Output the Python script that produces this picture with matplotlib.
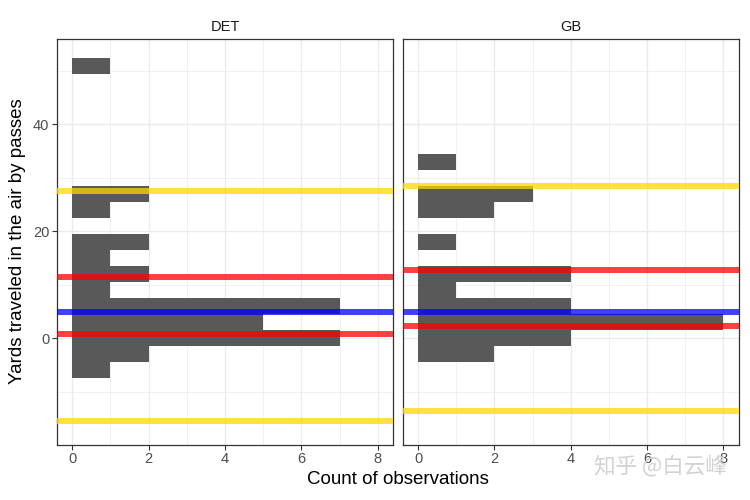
import numpy as np
import matplotlib.pyplot as plt
from matplotlib.ticker import MultipleLocator

plt.rcParams['font.family'] = ['Liberation Sans', 'Noto Sans CJK SC', 'DejaVu Sans']

# histogram bins (binwidth 3, centred on multiples of 3)
det_centers = [-6, -3, 0, 3, 6, 9, 12, 15, 18, 24, 27, 51]
det_counts = [1, 2, 7, 5, 7, 1, 2, 1, 2, 1, 2, 1]
gb_centers = [-3, 0, 3, 6, 9, 12, 18, 24, 27, 33]
gb_counts = [2, 4, 8, 4, 1, 4, 1, 2, 3, 1]

# reference lines per team
det_yellow = [27.5, -15.5]
det_red = [11.45, 0.75]
det_blue = [4.93]
gb_yellow = [28.45, -13.6]
gb_red = [12.7, 2.25]
gb_blue = [4.93]

panels = [
    ("DET", det_centers, det_counts, det_yellow, det_red, det_blue),
    ("GB", gb_centers, gb_counts, gb_yellow, gb_red, gb_blue),
]

fig = plt.figure(figsize=(7.5, 5), dpi=100)
lefts = [0.076, 0.537]
axes = []
for i, (team, cen, cnt, yel, red, blu) in enumerate(panels):
    ax = fig.add_axes([lefts[i], 0.111, 0.448, 0.8103])
    axes.append(ax)
    ax.barh(cen, cnt, height=3, color='#595959', zorder=2)
    for y in yel:
        ax.axhline(y, color='gold', alpha=0.75, lw=4.3, zorder=3)
    for y in red:
        ax.axhline(y, color='red', alpha=0.75, lw=4.3, zorder=3)
    for y in blu:
        ax.axhline(y, color='blue', alpha=0.75, lw=4.3, zorder=3)

    ax.set_xlim(-0.4, 8.4)
    ax.set_ylim(-19.85, 55.9)
    ax.xaxis.set_major_locator(MultipleLocator(2))
    ax.xaxis.set_minor_locator(MultipleLocator(1))
    ax.yaxis.set_major_locator(MultipleLocator(20))
    ax.yaxis.set_minor_locator(MultipleLocator(10))
    ax.grid(which='major', color='#ebebeb', lw=1.0, zorder=0)
    ax.grid(which='minor', color='#ebebeb', lw=0.5, zorder=0)
    ax.set_axisbelow(True)
    ax.tick_params(which='major', length=3.5, width=0.8, color='#333333',
                   labelcolor='#4d4d4d', labelsize=10.5, pad=2)
    ax.tick_params(which='minor', length=0)
    for s in ax.spines.values():
        s.set_color('#333333')
        s.set_linewidth(0.9)
    if i > 0:
        ax.tick_params(axis='y', which='both', left=False, labelleft=False)
    ax.set_title(team, fontsize=10.5, color='#1a1a1a', pad=6)

fig.text(0.531, 0.04, "Count of observations", ha='center', va='center', fontsize=13.5)
fig.text(0.024, 0.518, "Yards traveled in the air by passes", ha='center', va='center',
         rotation=90, fontsize=13.5)

# watermark
fig.text(0.881, 0.066, "知乎 @白云峰", ha='center', va='center', fontsize=15.5,
         color='#d2d2d2', family=['Noto Sans CJK SC', 'DejaVu Sans'])

fig.savefig("out.png", dpi=100)
